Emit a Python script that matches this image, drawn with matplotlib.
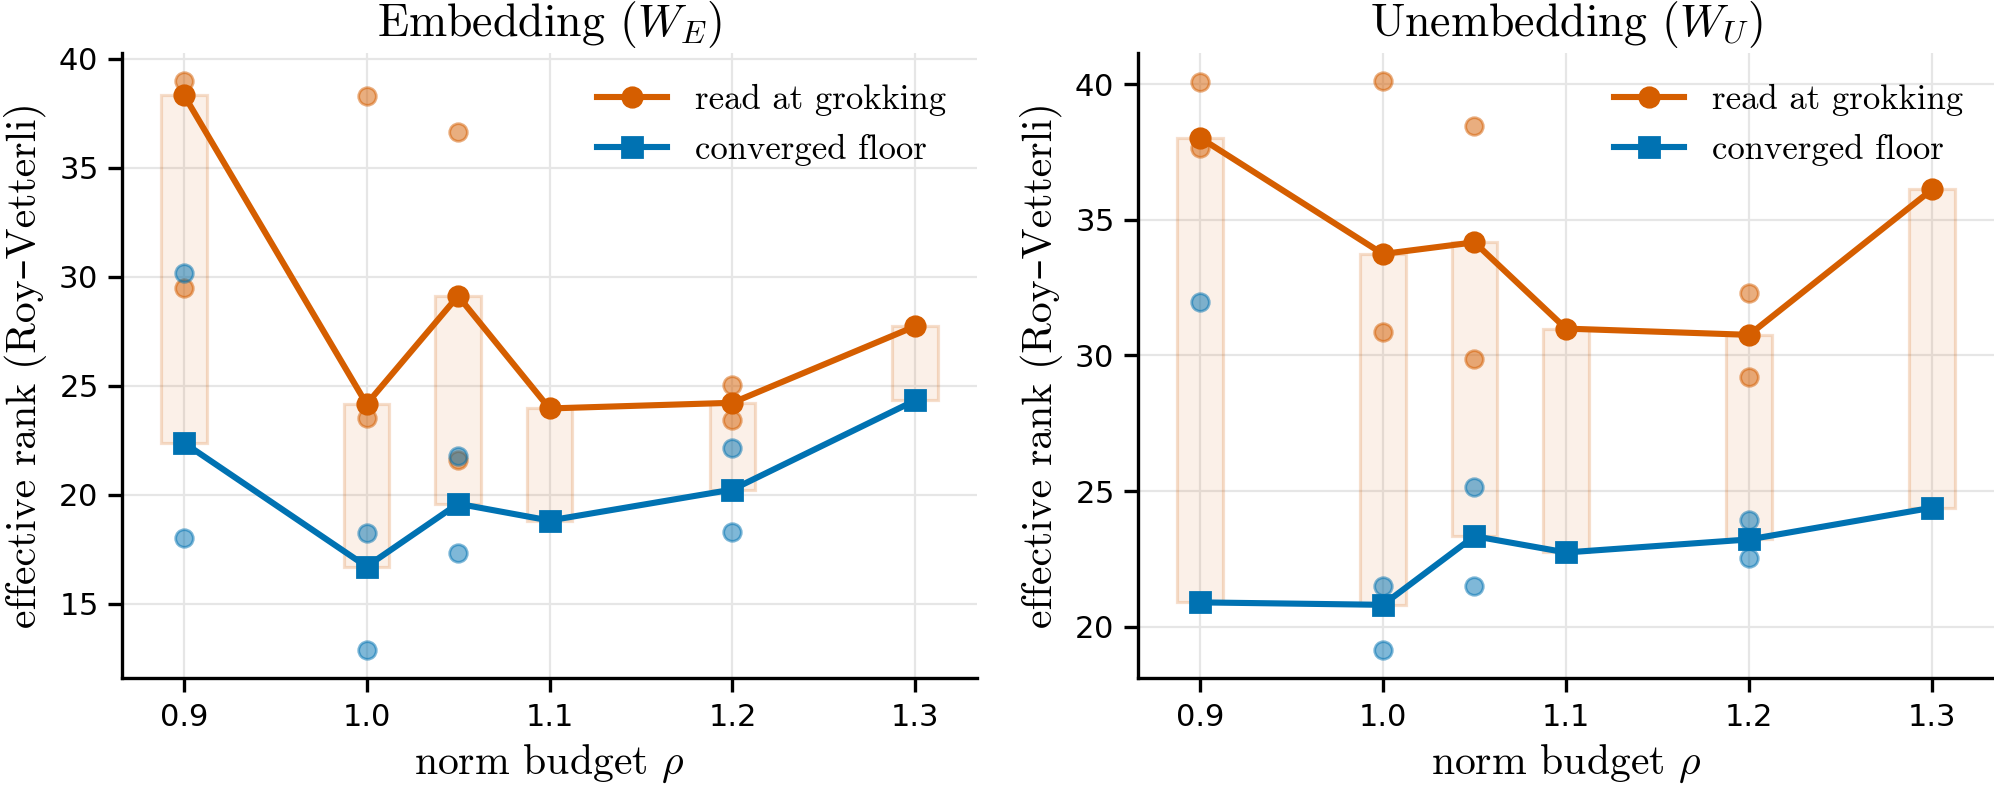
import matplotlib
matplotlib.use("Agg")
import matplotlib.pyplot as plt

# ---------------- data ----------------
rho = [0.9, 1.0, 1.05, 1.1, 1.2, 1.3]

emb_read = [38.35, 24.16, 29.12, 23.96, 24.22, 27.73]
emb_floor = [22.39, 16.71, 19.59, 18.82, 20.24, 24.33]
emb_seed_read_x = [0.9, 0.9, 1.0, 1.0, 1.05, 1.05, 1.2, 1.2]
emb_seed_read_y = [38.96, 29.49, 38.31, 23.51, 36.63, 21.61, 25.04, 23.41]
emb_seed_floor_x = [0.9, 0.9, 1.0, 1.0, 1.05, 1.05, 1.2, 1.2]
emb_seed_floor_y = [30.18, 18.00, 18.27, 12.90, 21.78, 17.33, 22.14, 18.31]

unemb_read = [38.03, 33.74, 34.17, 30.99, 30.76, 36.12]
unemb_floor = [20.90, 20.81, 23.34, 22.74, 23.22, 24.39]
unemb_seed_read_x = [0.9, 0.9, 1.0, 1.0, 1.05, 1.05, 1.2, 1.2]
unemb_seed_read_y = [40.07, 37.65, 40.10, 30.86, 38.46, 29.86, 32.31, 29.22]
unemb_seed_floor_x = [0.9, 1.0, 1.0, 1.05, 1.05, 1.2, 1.2]
unemb_seed_floor_y = [31.96, 21.50, 19.16, 25.16, 21.51, 23.93, 22.53]

titles = [r"Embedding ($W_E$)", r"Unembedding ($W_U$)"]
xticks = [0.9, 1.0, 1.1, 1.2, 1.3]
xticklabels = ["0.9", "1.0", "1.1", "1.2", "1.3"]

ORANGE = "#D55E00"
BLUE = "#0072B2"

plt.rcParams["font.family"] = ["cmr10", "DejaVu Serif"]
plt.rcParams["mathtext.fontset"] = "cm"
plt.rcParams["axes.formatter.use_mathtext"] = True

fig = plt.figure(figsize=(9.97, 3.975), dpi=200)
W, H = 1994, 795
ax1 = fig.add_axes([122 / W, 1 - 678 / H, (977 - 122) / W, (678 - 53) / H])
ax2 = fig.add_axes([1138 / W, 1 - 678 / H, (1994 - 1138) / W, (678 - 53) / H])

panels = [
    (ax1, emb_read, emb_floor, emb_seed_read_x, emb_seed_read_y, emb_seed_floor_x, emb_seed_floor_y),
    (ax2, unemb_read, unemb_floor, unemb_seed_read_x, unemb_seed_read_y, unemb_seed_floor_x, unemb_seed_floor_y),
]

for i, (ax, rd, fl, srx, sry, sfx, sfy) in enumerate(panels):
    heights = [r - f for r, f in zip(rd, fl)]
    ax.bar(rho, heights, bottom=fl, width=0.025, color=ORANGE, alpha=0.09,
           edgecolor=ORANGE, linewidth=1.0, zorder=1)
    ax.bar(rho, heights, bottom=fl, width=0.025, fill=False,
           edgecolor=(0.835, 0.37, 0.0, 0.12), linewidth=1.2, zorder=1)
    ax.scatter(srx, sry, s=40, color=ORANGE, alpha=0.5, edgecolors=ORANGE,
               linewidths=1.0, zorder=2)
    ax.scatter(sfx, sfy, s=40, color=BLUE, alpha=0.5, edgecolors=BLUE,
               linewidths=1.0, zorder=2)
    ax.plot(rho, rd, "-o", color=ORANGE, lw=2.2, ms=7, label="read at grokking", zorder=3)
    ax.plot(rho, fl, "-s", color=BLUE, lw=2.2, ms=7, label="converged floor", zorder=3)

    ax.set_title(titles[i], fontsize=16.5, pad=6)
    ax.set_xlabel(r"norm budget $\rho$", fontsize=15)
    ax.set_ylabel("effective rank (Roy–Vetterli)", fontsize=15)
    ax.set_xticks(xticks)
    ax.set_xticklabels(xticklabels)
    ax.tick_params(labelsize=11, length=5, width=1.2, pad=4)
    ax.grid(True, color="#e6e6e6", linewidth=0.8)
    ax.set_axisbelow(True)
    for s in ["top", "right"]:
        ax.spines[s].set_visible(False)
    for s in ["left", "bottom"]:
        ax.spines[s].set_linewidth(1.2)
    ax.legend(loc="upper right", frameon=False, fontsize=12.5, handlelength=2.0)

ax1.set_yticks([15, 20, 25, 30, 35, 40])
ax2.set_yticks([20, 25, 30, 35, 40])
for ax in (ax1, ax2):
    for lab in ax.get_xticklabels() + ax.get_yticklabels():
        lab.set_fontfamily("DejaVu Sans")

fig.savefig("out.png", dpi=200)
